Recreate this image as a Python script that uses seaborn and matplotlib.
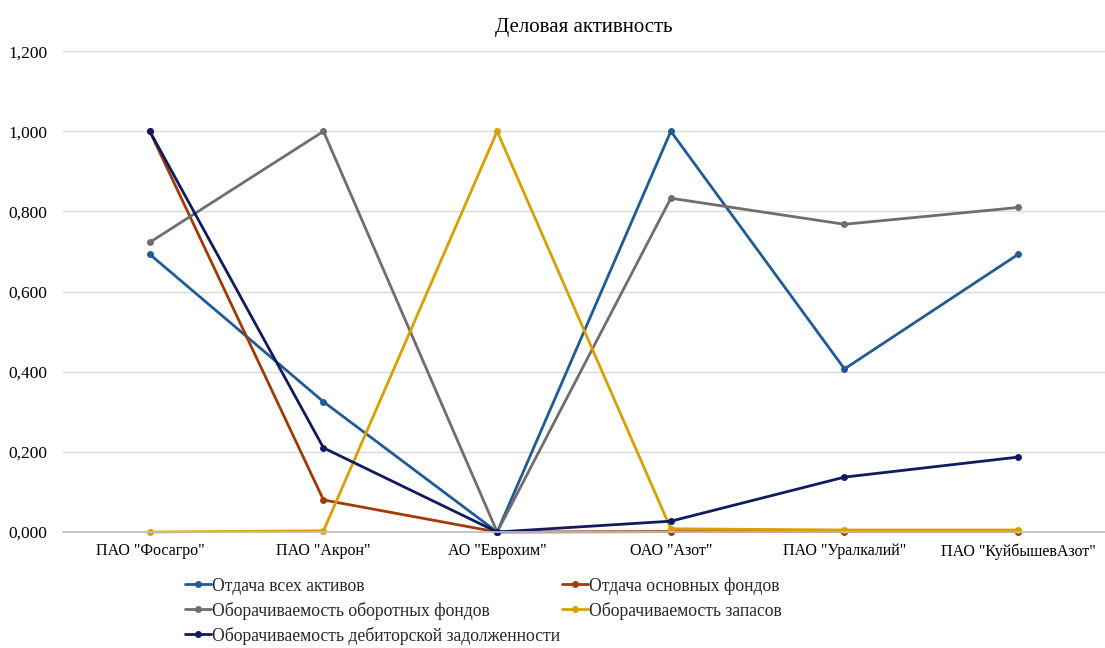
import matplotlib
matplotlib.use("Agg")
import matplotlib.pyplot as plt
import seaborn as sns
import pandas as pd
from matplotlib.ticker import FuncFormatter

companies = ['ПАО "Фосагро"', 'ПАО "Акрон"', 'АО "Еврохим"', 'ОАО "Азот"',
             'ПАО "Уралкалий"', 'ПАО "КуйбышевАзот"']

series_names = ["Отдача всех активов",
                "Отдача основных фондов",
                "Оборачиваемость оборотных фондов",
                "Оборачиваемость запасов",
                "Оборачиваемость дебиторской задолженности"]

otdacha_aktivov = [0.693, 0.325, 0.000, 1.000, 0.407, 0.693]
otdacha_fondov = [1.000, 0.080, 0.000, 0.001, 0.001, 0.001]
oborot_fondov = [0.723, 1.000, 0.000, 0.833, 0.768, 0.810]
oborot_zapasov = [0.000, 0.003, 1.000, 0.008, 0.005, 0.005]
oborot_debitor = [1.000, 0.210, 0.000, 0.027, 0.137, 0.187]

colors = ["#1F5B94", "#A23A05", "#6E6E6E", "#D9A000", "#101A5E"]

values = [otdacha_aktivov, otdacha_fondov, oborot_fondov, oborot_zapasov, oborot_debitor]
rows = []
for name, vals in zip(series_names, values):
    for c, v in zip(companies, vals):
        rows.append({"company": c, "value": v, "series": name})
df = pd.DataFrame(rows)

sns.set_theme(style="white")
plt.rcParams["font.family"] = ["Liberation Serif", "DejaVu Serif"]

fig = plt.figure(figsize=(11.05, 6.48), dpi=100)
ax = fig.add_axes([0.057, 0.179, 0.943, 0.742])

sns.lineplot(data=df, x="company", y="value", hue="series", hue_order=series_names,
             palette=dict(zip(series_names, colors)), sort=False, marker="o",
             markersize=5, markeredgewidth=0, linewidth=2.0, ax=ax, legend=True)
for ln in ax.lines:
    ln.set_clip_on(False)

ax.set_xlim(-0.5, 5.5)
ax.set_ylim(0, 1.2)
ax.set_yticks([0, 0.2, 0.4, 0.6, 0.8, 1.0, 1.2])
ax.yaxis.set_major_formatter(FuncFormatter(lambda v, p: f"{v:.3f}".replace(".", ",")))
ax.grid(axis="y", color="#D9D9D9", linewidth=1.0)
ax.grid(axis="x", visible=False)
ax.set_axisbelow(True)
for s in ["top", "right", "left"]:
    ax.spines[s].set_visible(False)
ax.spines["bottom"].set_color("#BFBFBF")
ax.tick_params(axis="x", length=0, labelsize=11.5, colors="#000000", pad=8)
ax.tick_params(axis="y", length=0, labelsize=12.5, colors="#000000", pad=11)
ax.set_xlabel("")
ax.set_ylabel("")
ax.set_title("Деловая активность", fontsize=15, color="#000000", pad=14)

handles, labels = ax.get_legend_handles_labels()
order = [0, 2, 4, 1, 3]
ax.legend([handles[i] for i in order], [labels[i] for i in order], ncol=2,
          loc="upper left", bbox_to_anchor=(0.110, -0.079), frameon=False,
          fontsize=12.7, handlelength=1.5, handletextpad=0.05, columnspacing=0.08,
          labelspacing=0.40, borderaxespad=0)

fig.savefig("out.png", dpi=100)
